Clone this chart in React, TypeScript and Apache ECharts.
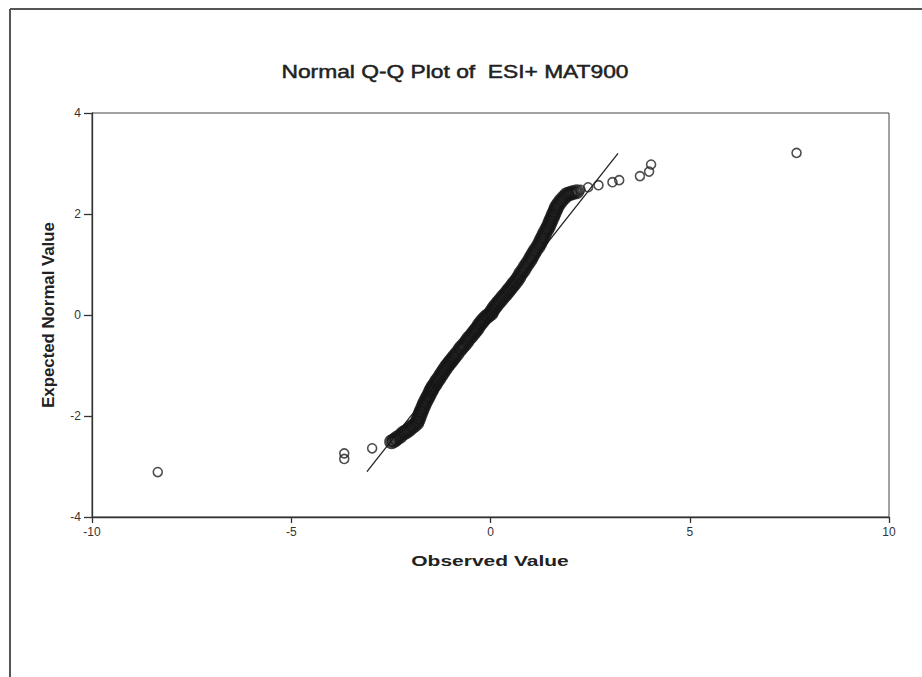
import React, { useEffect, useRef } from "react";
import * as echarts from "echarts";

// Observed value, expected normal value (dense central band)
const bandPoints: number[][] = [
  [-2.48, -2.51], [-2.41, -2.48], [-2.35, -2.44], [-2.27, -2.40], [-2.19, -2.34],
  [-2.12, -2.31], [-2.05, -2.27], [-1.99, -2.23], [-1.92, -2.19], [-1.85, -2.14],
  [-1.82, -2.08], [-1.79, -2.02], [-1.76, -1.95], [-1.73, -1.89], [-1.69, -1.82],
  [-1.66, -1.76], [-1.62, -1.70], [-1.58, -1.64], [-1.54, -1.58], [-1.50, -1.51],
  [-1.47, -1.47], [-1.44, -1.42], [-1.39, -1.37], [-1.35, -1.31], [-1.30, -1.26],
  [-1.25, -1.20], [-1.20, -1.14], [-1.15, -1.08], [-1.10, -1.02], [-1.05, -0.97],
  [-1.00, -0.92], [-0.95, -0.87], [-0.90, -0.82], [-0.84, -0.76], [-0.77, -0.69],
  [-0.72, -0.64], [-0.66, -0.59], [-0.60, -0.53], [-0.55, -0.47], [-0.49, -0.42],
  [-0.43, -0.36], [-0.38, -0.31], [-0.33, -0.26], [-0.28, -0.20], [-0.23, -0.15],
  [-0.18, -0.10], [-0.12, -0.05], [-0.06, -0.01], [0.01, 0.03], [0.04, 0.08],
  [0.09, 0.14], [0.14, 0.19], [0.20, 0.25], [0.26, 0.30], [0.32, 0.36],
  [0.38, 0.41], [0.44, 0.47], [0.49, 0.52], [0.55, 0.58], [0.60, 0.63],
  [0.66, 0.69], [0.71, 0.75], [0.76, 0.82], [0.82, 0.88], [0.87, 0.95],
  [0.93, 1.02], [0.99, 1.09], [1.03, 1.15], [1.08, 1.22], [1.13, 1.28],
  [1.19, 1.35], [1.24, 1.42], [1.28, 1.49], [1.32, 1.55], [1.36, 1.62],
  [1.41, 1.69], [1.45, 1.75], [1.49, 1.82], [1.52, 1.88], [1.56, 1.95],
  [1.59, 2.01], [1.63, 2.08], [1.66, 2.14], [1.71, 2.20], [1.77, 2.26],
  [1.84, 2.32], [1.91, 2.38], [1.98, 2.40], [2.06, 2.42], [2.16, 2.44],
];

// Sparse tail points
const tailPoints: number[][] = [
  [-8.35, -3.11], [-3.67, -2.74], [-3.67, -2.85], [-2.97, -2.64],
  [2.26, 2.48], [2.45, 2.53], [2.71, 2.57], [3.06, 2.63], [3.23, 2.67],
  [3.75, 2.75], [3.98, 2.84], [4.03, 2.98], [7.68, 3.21],
];

// Reference line ends
const refLine: number[][] = [[-3.1, -3.1], [3.2, 3.2]];

const xTicks = { min: -10, max: 10, interval: 5 };
const yTicks = { min: -4, max: 4, interval: 2 };

const titleText = "Normal Q-Q Plot of  ESI+ MAT900";
const xName = "Observed Value";
const yName = "Expected Normal Value";

export default function App() {
  const ref = useRef<HTMLDivElement>(null);
  useEffect(() => {
    if (!ref.current) return;
    const chart = echarts.init(ref.current, undefined, { renderer: "svg" });
    const font = "Arial, 'Liberation Sans', Helvetica, sans-serif";
    const ink = "#222";
    chart.setOption({
      animation: false,
      backgroundColor: "#ffffff",
      grid: {
        left: 92, right: 33, top: 113, bottom: 160,
        show: true, borderColor: "#444", borderWidth: 1,
      },
      xAxis: {
        type: "value", ...xTicks,
        axisLine: { show: true, onZero: false, lineStyle: { color: "#333", width: 1.3 } },
        axisTick: { show: true, length: 6, lineStyle: { color: "#333", width: 1.3 } },
        axisLabel: { color: "#333", fontSize: 12, fontFamily: font, margin: 9 },
        splitLine: { show: false },
      },
      yAxis: {
        type: "value", ...yTicks,
        axisLine: { show: true, onZero: false, lineStyle: { color: "#333", width: 1.3 } },
        axisTick: { show: true, length: 8, lineStyle: { color: "#333", width: 1.3 } },
        axisLabel: { color: "#333", fontSize: 12, fontFamily: font, margin: 11 },
        splitLine: { show: false },
      },
      series: [
        {
          type: "line", data: refLine, symbol: "none",
          lineStyle: { color: ink, width: 1.3 }, z: 1,
        },
        {
          type: "scatter", data: bandPoints, symbol: "circle", symbolSize: 11,
          itemStyle: { color: "rgba(0,0,0,0)", borderColor: "#151515", borderWidth: 4 }, z: 2,
        },
        {
          type: "scatter", data: tailPoints, symbol: "circle", symbolSize: 9,
          itemStyle: { color: "rgba(0,0,0,0)", borderColor: ink, borderWidth: 1.6 }, z: 2,
        },
      ],
      graphic: [
        { type: "line", shape: { x1: 10, y1: 9, x2: 922, y2: 9 }, style: { stroke: "#555", lineWidth: 2 } },
        { type: "line", shape: { x1: 10, y1: 9, x2: 10, y2: 677 }, style: { stroke: "#555", lineWidth: 2 } },
        {
          type: "text", x: 455, y: 71, scaleX: 1.2,
          style: { text: titleText, fontSize: 19, fontFamily: font, fill: ink, stroke: ink, lineWidth: 0.5, align: "center", verticalAlign: "middle" },
        },
        {
          type: "text", x: 490, y: 561, scaleX: 1.4,
          style: { text: xName, fontSize: 15, fontWeight: "bold", fontFamily: font, fill: ink, align: "center", verticalAlign: "middle" },
        },
        {
          type: "text", x: 48, y: 315, rotation: Math.PI / 2, scaleX: 1.05,
          style: { text: yName, fontSize: 16, fontWeight: "bold", fontFamily: font, fill: ink, align: "center", verticalAlign: "middle" },
        },
      ],
    });
    return () => chart.dispose();
  }, []);
  return <div ref={ref} style={{ position: "fixed", left: 0, top: 0, width: 922, height: 677 }} />;
}
